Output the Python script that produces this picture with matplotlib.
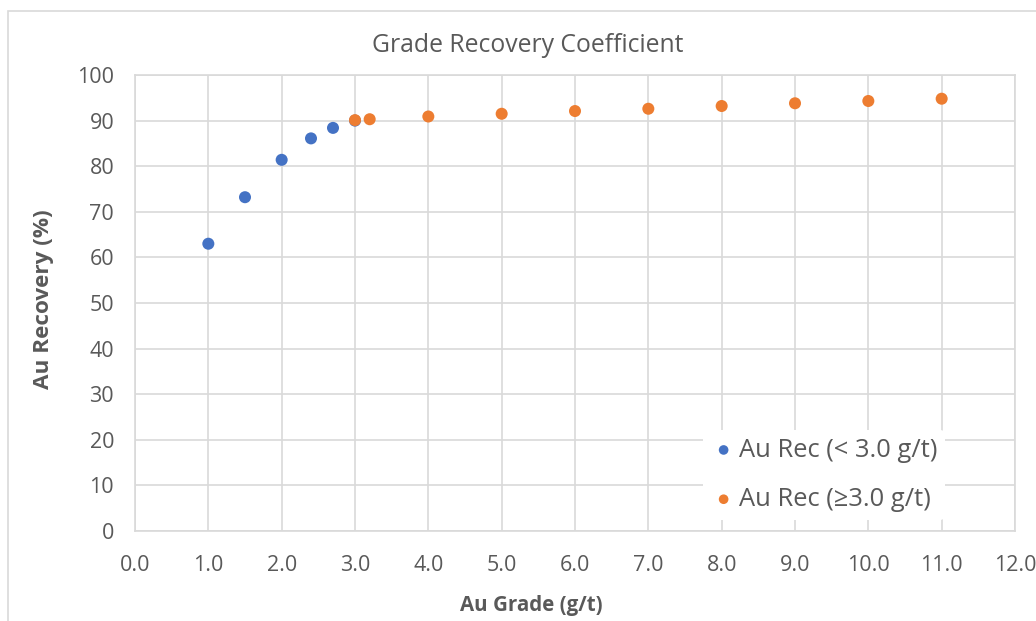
import matplotlib.pyplot as plt
from matplotlib.patches import Rectangle

plt.rcParams['font.family'] = ['Open Sans', 'DejaVu Sans']

# Au grade (g/t) and recovery (%)
grade_low = [1.0, 1.5, 2.0, 2.4, 2.7, 3.0]
rec_low = [63.0, 73.2, 81.4, 86.1, 88.4, 90.0]

grade_high = [3.0, 3.2, 4.0, 5.0, 6.0, 7.0, 8.0, 9.0, 10.0, 11.0]
rec_high = [90.1, 90.3, 90.9, 91.5, 92.1, 92.6, 93.2, 93.8, 94.3, 94.8]

x_ticks = [0, 1, 2, 3, 4, 5, 6, 7, 8, 9, 10, 11, 12]
y_ticks = [0, 10, 20, 30, 40, 50, 60, 70, 80, 90, 100]

TEXT = '#595959'
GRID = '#d9d9d9'

fig = plt.figure(figsize=(10.36, 6.21), dpi=100)
ax = fig.add_axes([135 / 1036, 1 - 531 / 621, 880 / 1036, 456 / 621])

# outer chart border
fig.patches.append(Rectangle((8 / 1036, -0.1), 1.2, 1.1 - 11 / 621,
                             transform=fig.transFigure, fill=False,
                             edgecolor=GRID, linewidth=1.2))

ax.scatter(grade_low, rec_low, s=75, color='#4472C4', zorder=3,
           label='Au Rec (< 3.0 g/t)', edgecolors='none')
ax.scatter(grade_high, rec_high, s=75, color='#ED7D31', zorder=3,
           label='Au Rec (\u22653.0 g/t)', edgecolors='none')

ax.set_xlim(0, 12)
ax.set_ylim(0, 100)
ax.set_xticks(x_ticks)
ax.set_xticklabels([f'{v:.1f}' for v in x_ticks])
ax.set_yticks(y_ticks)
ax.grid(True, color=GRID, linewidth=1.2, zorder=0)
ax.set_axisbelow(True)
for sp in ax.spines.values():
    sp.set_color(GRID)
    sp.set_linewidth(1.2)
ax.tick_params(length=0, labelsize=15.5, labelcolor=TEXT)
ax.tick_params(axis='y', pad=15)
ax.tick_params(axis='x', pad=17)

# title and axis labels placed on the chart area, like Excel does
fig.text(528 / 1036, 1 - 45 / 621, 'Grade Recovery Coefficient', fontsize=17.8,
         color=TEXT, ha='center', va='center')
fig.text(531 / 1036, 1 - 606 / 621, 'Au Grade (g/t)', fontsize=14.8,
         fontweight='bold', color=TEXT, ha='center', va='center')
fig.text(44 / 1036, 1 - 299 / 621, 'Au Recovery (%)', fontsize=16.2,
         fontweight='bold', color=TEXT, ha='center', va='center', rotation=90)

leg = ax.legend(loc='lower right', bbox_to_anchor=((945 - 135) / 880, 0.025),
                bbox_transform=ax.transAxes, fontsize=18.4, frameon=True,
                framealpha=1, edgecolor='none', facecolor='white',
                handlelength=1.0, handletextpad=0.1, markerscale=0.8,
                labelspacing=0.95, borderaxespad=0, borderpad=0.3)
for t in leg.get_texts():
    t.set_color(TEXT)

fig.savefig('out.png', dpi=100)
